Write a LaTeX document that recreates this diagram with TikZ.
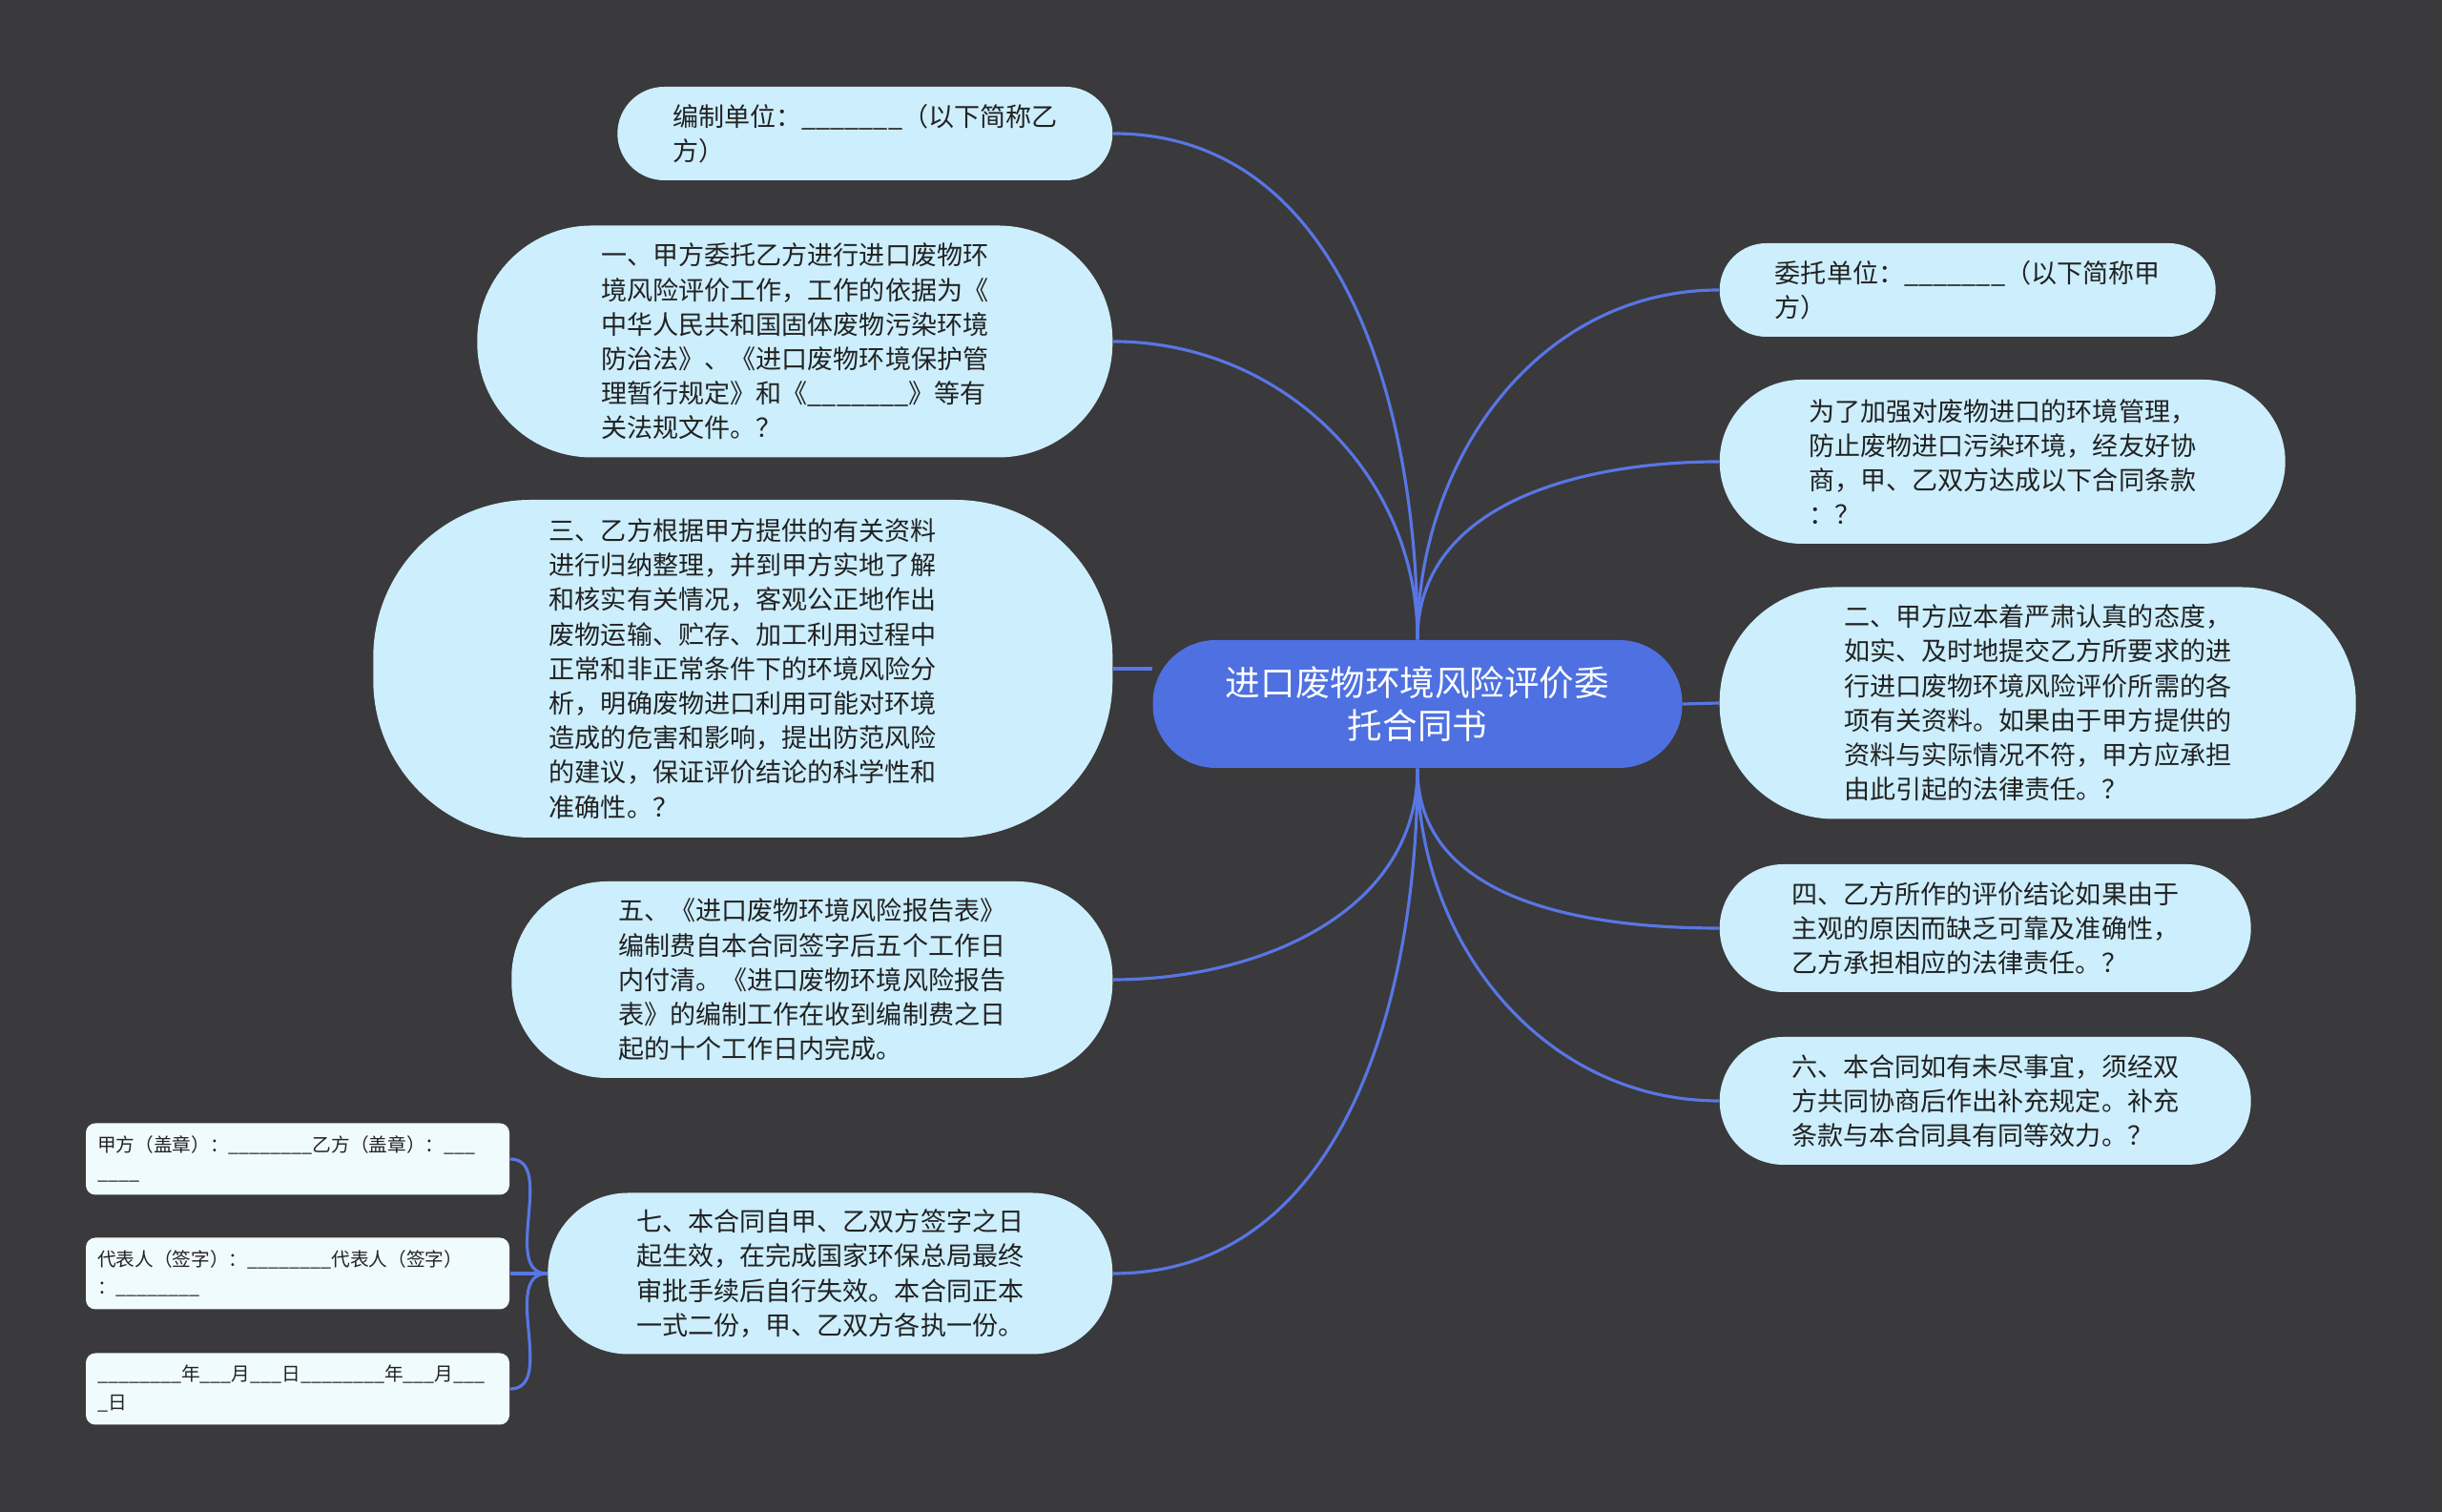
\documentclass[tikz,border=0pt]{standalone}
\usepackage{fontspec}
\setmainfont{Noto Sans CJK SC}
\usepackage{tikz}
\usetikzlibrary{positioning,calc}
\definecolor{bgdark}{RGB}{58,57,59}
\definecolor{rootblue}{RGB}{78,112,224}
\definecolor{linkblue}{RGB}{88,118,228}
\definecolor{leafblue}{RGB}{204,238,253}
\definecolor{notewhite}{RGB}{240,251,254}
\definecolor{textdark}{RGB}{34,34,34}

\begin{document}
\begin{tikzpicture}[
    root/.style={fill=rootblue, text=white, align=center, rounded corners=0.66cm,
      minimum width=5.55cm, minimum height=1.34cm, font=\fontsize{10.4}{13}\selectfont},
    leaf/.style={fill=leafblue, text=textdark, align=left, inner sep=0pt,
      font=\fontsize{7.7}{10.3}\selectfont},
    note/.style={fill=notewhite, text=textdark, align=left, rounded corners=0.1cm,
      minimum width=4.44cm, minimum height=0.75cm, text width=4.2cm,
      font=\fontsize{5.6}{8.5}\selectfont},
    link/.style={linkblue, line width=0.9pt}
  ]
  \fill[bgdark] (0,0) rectangle (25.6,15.85);
  \useasboundingbox (0,0) rectangle (25.6,15.85);

  % centre
  \node[root] (root) at (14.86,8.47) {进口废物环境风险评价委\\托合同书};

  % left branch
  \node[leaf, anchor=east, minimum width=5.19cm, minimum height=0.98cm, rounded corners=0.49cm]
    (bianzhi) at (11.67,14.45) {编制单位：\_\_\_\_\_\_\_（以下简称乙\\方）};
  \node[leaf, anchor=east, minimum width=6.66cm, minimum height=2.43cm, rounded corners=1.2cm]
    (yi) at (11.67,12.27) {一、甲方委托乙方进行进口废物环\\境风险评价工作，工作的依据为《\\中华人民共和国固体废物污染环境\\防治法》、《进口废物环境保护管\\理暂行规定》和《\_\_\_\_\_\_\_》等有\\关法规文件。？};
  \node[leaf, anchor=east, minimum width=7.75cm, minimum height=3.54cm, rounded corners=1.65cm]
    (san) at (11.67,8.84) {三、乙方根据甲方提供的有关资料\\进行归纳整理，并到甲方实地了解\\和核实有关情况，客观公正地作出\\废物运输、贮存、加工利用过程中\\正常和非正常条件下的环境风险分\\析，明确废物进口利用可能对环境\\造成的危害和影响，提出防范风险\\的建议，保证评价结论的科学性和\\准确性。？};
  \node[leaf, anchor=east, minimum width=6.30cm, minimum height=2.06cm, rounded corners=1.0cm]
    (wu) at (11.67,5.58) {五、《进口废物环境风险报告表》\\编制费自本合同签字后五个工作日\\内付清。《进口废物环境风险报告\\表》的编制工作在收到编制费之日\\起的十个工作日内完成。};
  \node[leaf, anchor=east, minimum width=5.92cm, minimum height=1.69cm, rounded corners=0.84cm]
    (qi) at (11.67,2.50) {七、本合同自甲、乙双方签字之日\\起生效，在完成国家环保总局最终\\审批手续后自行失效。本合同正本\\一式二份，甲、乙双方各执一份。};

  % signatures
  \node[note] (gaizhang) at (3.12,3.70) {甲方（盖章）：\_\_\_\_\_\_\_\_乙方（盖章）：\_\_\_\\\_\_\_\_};
  \node[note] (qianzi) at (3.12,2.50) {代表人（签字）：\_\_\_\_\_\_\_\_代表人（签字）\\：\_\_\_\_\_\_\_\_};
  \node[note] (riqi) at (3.12,1.29) {\_\_\_\_\_\_\_\_年\_\_\_月\_\_\_日\_\_\_\_\_\_\_\_年\_\_\_月\_\_\_\\\_日};

  % right branch
  \node[leaf, anchor=west, minimum width=5.20cm, minimum height=0.98cm, rounded corners=0.49cm]
    (weituo) at (18.02,12.81) {委托单位：\_\_\_\_\_\_\_（以下简称甲\\方）};
  \node[leaf, anchor=west, minimum width=5.93cm, minimum height=1.72cm, rounded corners=0.86cm]
    (weile) at (18.02,11.01) {为了加强对废物进口的环境管理，\\防止废物进口污染环境，经友好协\\商，甲、乙双方达成以下合同条款\\：？};
  \node[leaf, anchor=west, minimum width=6.67cm, minimum height=2.43cm, rounded corners=1.2cm]
    (er) at (18.02,8.48) {二、甲方应本着严肃认真的态度，\\如实、及时地提交乙方所要求的进\\行进口废物环境风险评价所需的各\\项有关资料。如果由于甲方提供的\\资料与实际情况不符，甲方应承担\\由此引起的法律责任。？};
  \node[leaf, anchor=west, minimum width=5.57cm, minimum height=1.34cm, rounded corners=0.67cm]
    (si) at (18.02,6.12) {四、乙方所作的评价结论如果由于\\主观的原因而缺乏可靠及准确性，\\乙方承担相应的法律责任。？};
  \node[leaf, anchor=west, minimum width=5.57cm, minimum height=1.34cm, rounded corners=0.67cm]
    (liu) at (18.02,4.31) {六、本合同如有未尽事宜，须经双\\方共同协商后作出补充规定。补充\\条款与本合同具有同等效力。？};

  % connectors
  \draw[link] (root.north) to[out=90, in=0] (bianzhi.east);
  \draw[link] (root.north) to[out=90, in=0] (yi.east);
  \draw[link] (san.east) -- (san.east -| root.west);
  \draw[link] (root.south) to[out=-90, in=0] (wu.east);
  \draw[link] (root.south) to[out=-90, in=0] (qi.east);
  \draw[link] (root.north) to[out=90, in=180] (weituo.west);
  \draw[link] (root.north) to[out=90, in=180] (weile.west);
  \draw[link] (root.east) -- (er.west);
  \draw[link] (root.south) to[out=-90, in=180] (si.west);
  \draw[link] (root.south) to[out=-90, in=180] (liu.west);

  \draw[link] (qi.west) to[out=180, in=0] (gaizhang.east);
  \draw[link] (qi.west) -- (qianzi.east);
  \draw[link] (qi.west) to[out=180, in=0] (riqi.east);
\end{tikzpicture}
\end{document}
